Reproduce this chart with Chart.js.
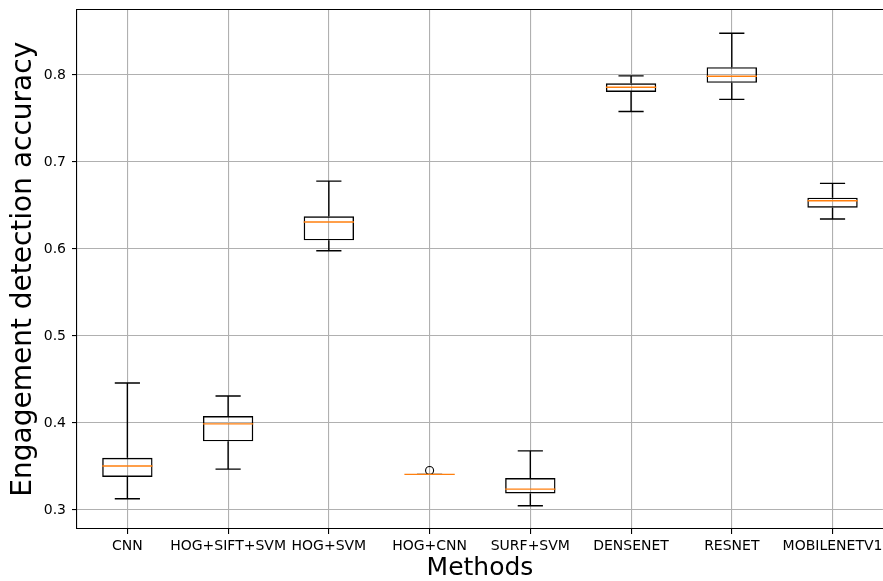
<!DOCTYPE html>
<html>
<head>
<meta charset="utf-8">
<script src="https://cdn.jsdelivr.net/npm/chart.js@4/dist/chart.umd.min.js"></script>
<style>
html,body{margin:0;padding:0;background:#fff;overflow:hidden;}
canvas{display:block;}
</style>
</head>
<body>
<canvas id="c" width="888" height="581" style="width:888px;height:581px;"></canvas>
<script>
const categories = ['CNN','HOG+SIFT+SVM','HOG+SVM','HOG+CNN','SURF+SVM','DENSENET','RESNET','MOBILENETV1'];
const whiskerLow  = [0.313, 0.347, 0.598, 0.341, 0.305, 0.758, 0.772, 0.6345];
const q1          = [0.338, 0.379, 0.610, 0.341, 0.319, 0.7805, 0.791, 0.6475];
const median      = [0.3506, 0.399, 0.631, 0.341, 0.324, 0.786, 0.7985, 0.6555];
const q3          = [0.360, 0.408, 0.6376, 0.341, 0.3368, 0.7905, 0.809, 0.659];
const whiskerHigh = [0.446, 0.431, 0.678, 0.341, 0.368, 0.799, 0.848, 0.6755];
const outliers    = [null, null, null, 0.3455, null, null, null, null];
const yTicks = [0.3, 0.4, 0.5, 0.6, 0.7, 0.8];
const yMin = 0.2782, yMax = 0.8753;

const FONT = "'DejaVu Sans', sans-serif";

const boxPlugin = {
  id: 'boxExtras',
  afterDatasetsDraw(chart) {
    const ctx = chart.ctx;
    const xs = chart.scales.x, ys = chart.scales.y;
    const catW = xs.getPixelForValue(1) - xs.getPixelForValue(0);
    const capHalf = catW * 0.125;
    const boxHalf = catW * 0.25;
    ctx.save();
    ctx.lineWidth = 1.4;
    ctx.strokeStyle = '#000';
    for (let i = 0; i < categories.length; i++) {
      const x = xs.getPixelForValue(i);
      const yl = ys.getPixelForValue(whiskerLow[i]);
      const yq1 = ys.getPixelForValue(q1[i]);
      const yq3 = ys.getPixelForValue(q3[i]);
      const yh = ys.getPixelForValue(whiskerHigh[i]);
      ctx.beginPath();
      ctx.moveTo(x, yq1); ctx.lineTo(x, yl);
      ctx.moveTo(x - capHalf, yl); ctx.lineTo(x + capHalf, yl);
      ctx.moveTo(x, yq3); ctx.lineTo(x, yh);
      ctx.moveTo(x - capHalf, yh); ctx.lineTo(x + capHalf, yh);
      ctx.stroke();
    }
    ctx.strokeStyle = '#ff7f0e';
    for (let i = 0; i < categories.length; i++) {
      const x = xs.getPixelForValue(i);
      const ym = ys.getPixelForValue(median[i]);
      ctx.beginPath();
      ctx.moveTo(x - boxHalf, ym); ctx.lineTo(x + boxHalf, ym);
      ctx.stroke();
    }
    const a = chart.chartArea;
    ctx.strokeStyle = '#000';
    ctx.lineWidth = 1.1;
    ctx.beginPath();
    ctx.moveTo(a.left, a.top); ctx.lineTo(a.right + 2, a.top);
    ctx.stroke();
    ctx.restore();
  }
};

new Chart(document.getElementById('c'), {
  type: 'bar',
  data: {
    labels: categories,
    datasets: [
      {
        label: 'box',
        data: categories.map((_, i) => [q1[i], q3[i]]),
        backgroundColor: 'rgba(0,0,0,0)',
        borderColor: '#000',
        borderWidth: 1.4,
        borderSkipped: false,
        categoryPercentage: 1.0,
        barPercentage: 0.5,
        order: 2
      },
      {
        type: 'line',
        label: 'outliers',
        data: outliers,
        showLine: false,
        pointRadius: 4,
        pointBorderWidth: 1.1,
        pointBorderColor: '#000',
        pointBackgroundColor: 'rgba(0,0,0,0)',
        order: 1
      }
    ]
  },
  options: {
    responsive: false,
    maintainAspectRatio: false,
    animation: false,
    devicePixelRatio: 1,
    layout: { padding: { top: 9.5, right: 3, left: 0, bottom: 0 } },
    plugins: { legend: { display: false }, tooltip: { enabled: false } },
    scales: {
      x: {
        offset: true,
        grid: { offset: false, color: '#b0b0b0', lineWidth: 1.1, tickLength: 5, tickColor: '#000', tickWidth: 1.1 },
        border: { color: '#000', width: 1.1 },
        ticks: { color: '#000', font: { family: FONT, size: 14 }, padding: 4, autoSkip: false, maxRotation: 0, minRotation: 0 },
        title: { display: true, text: 'Methods', color: '#000', font: { family: FONT, size: 25, lineHeight: 1.0 }, padding: { top: 0, bottom: 0 } },
        afterFit(s) { s.height = 52; s.paddingLeft = 0; s.paddingRight = 0; }
      },
      y: {
        min: yMin, max: yMax,
        afterBuildTicks(axis) { axis.ticks = yTicks.map(v => ({ value: v })); },
        grid: { color: '#b0b0b0', lineWidth: 1.1, tickLength: 5, tickColor: '#000', tickWidth: 1.1 },
        border: { color: '#000', width: 1.1 },
        ticks: { color: '#000', font: { family: FONT, size: 14 }, padding: 6, callback: v => Number(v).toFixed(1) },
        title: { display: true, text: 'Engagement detection accuracy', color: '#000', font: { family: FONT, size: 28, lineHeight: 1.0 }, padding: { top: 10, bottom: 0 } },
        afterFit(s) { s.width = 77; s.paddingTop = 0; s.paddingBottom = 0; }
      }
    }
  },
  plugins: [boxPlugin]
});
</script>
</body>
</html>
